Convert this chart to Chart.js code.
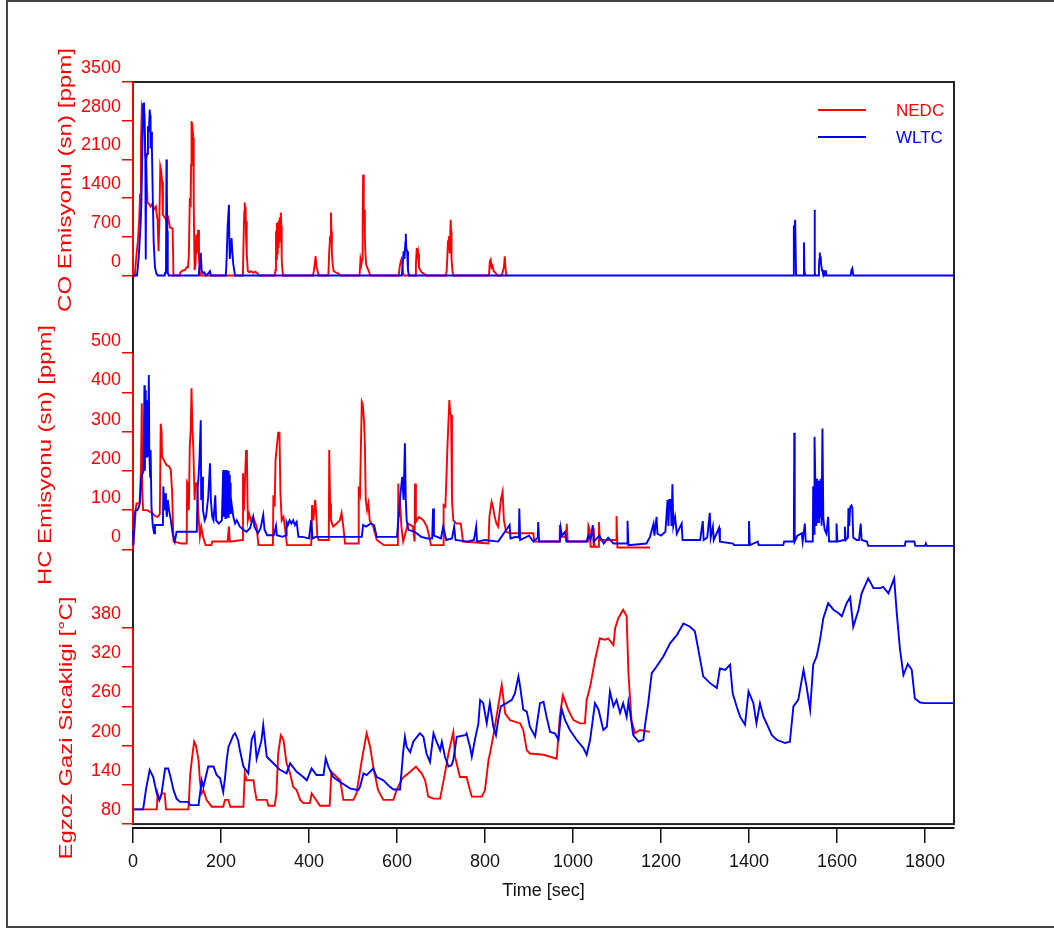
<!DOCTYPE html>
<html>
<head>
<meta charset="utf-8">
<script src="https://cdn.jsdelivr.net/npm/chart.js@4.4.0/dist/chart.umd.min.js"></script>
<style>
  html, body { margin: 0; padding: 0; background: #fff; }
  #wrap { position: relative; width: 1054px; height: 928px; overflow: hidden; }
  #frame { position: absolute; left: 6px; top: 0; width: 1060px; height: 924px;
           border: 2px solid #444; border-right: none; pointer-events: none; }
</style>
</head>
<body>
<div id="wrap">
  <canvas id="myChart" width="1054" height="928"></canvas>
  <div id="frame"></div>
</div>
<script>
// tick values
var timeTicks = [0, 200, 400, 600, 800, 1000, 1200, 1400, 1600, 1800];
var coTicks = [0, 700, 1400, 2100, 2800, 3500];
var hcTicks = [0, 100, 200, 300, 400, 500];
var tempTicks = [80, 140, 200, 260, 320, 380];

// [time s, value]
var coNedc = [[0,0],[4,0],[8,380],[11,620],[14,1000],[16,1460],[18,2400],[20,3035],[22,2950],[24,3000],[26,2900],[28,2186],[30,2000],[33,1320],[36,1300],[40,1250],[44,1300],[48,1200],[52,1250],[54,1100],[56,1000],[58,440],[60,1000],[62,1975],[64,1900],[66,1700],[68,1100],[72,1050],[76,1000],[80,1050],[84,870],[88,860],[90,850],[92,0],
  [106,0],[108,60],[112,90],[118,100],[122,150],[125,150],[127,380],[129,1340],[131,1300],[132,2000],[133,2790],[135,2700],[137,2490],[138,1340],[140,100],[142,200],[144,740],[146,400],[148,830],[150,300],[152,60],[154,0],
  [248,0],[250,100],[252,900],[253,1160],[254,1320],[255,1000],[256,1250],[257,680],[258,980],[259,400],[261,80],[264,60],[268,80],[274,50],[278,70],[283,40],[285,0],
  [322,0],[324,100],[325,800],[326,300],[327,950],[328,400],[329,900],[330,965],[331,500],[332,1000],[333,600],[334,1050],[335,700],[336,1140],[337,900],[338,300],[339,150],[341,0],
  [409,0],[411,80],[413,200],[415,350],[417,150],[419,100],[421,30],[423,0],
  [444,0],[446,440],[448,700],[450,1140],[451,800],[452,400],[454,200],[456,80],[460,60],[466,40],[472,0],
  [515,0],[517,290],[519,200],[521,300],[522,1000],[523,1825],[524,1400],[525,1000],[526,1190],[527,700],[528,440],[530,200],[532,150],[535,100],[538,30],[540,0],
  [604,0],[606,150],[608,235],[610,290],[612,200],[614,50],[616,0],
  [642,0],[643,200],[645,500],[646,300],[648,400],[650,150],[653,100],[656,60],[660,40],[666,0],
  [711,0],[713,100],[716,620],[718,710],[720,400],[722,1010],[723,800],[724,300],[726,100],[728,0],
  [809,0],[811,260],[813,290],[815,150],[817,180],[820,80],[824,50],[828,0],
  [838,0],[840,60],[843,150],[845,350],[847,100],[849,0],[852,0]];

var coWltc = [[0,0],[9,0],[11,150],[13,330],[15,600],[17,870],[19,1300],[21,2190],[23,3100],[25,3130],[27,2500],[28,2150],[29,290],[30,2100],[32,2200],[34,2700],[36,2600],[38,3000],[39,2900],[40,2300],[42,2600],[43,2300],[45,1400],[47,600],[50,150],[53,40],[56,0],
  [72,0],[73,50],[75,60],[76,2100],[77,1500],[78,800],[79,60],[81,0],
  [148,0],[150,80],[152,200],[154,410],[156,100],[158,40],[162,60],[166,0],[172,50],[175,80],[177,0],
  [211,0],[213,350],[215,870],[218,1280],[219,600],[220,300],[222,500],[224,680],[226,400],[228,200],[230,100],[232,0],
  [611,0],[613,200],[615,440],[617,300],[619,600],[620,755],[621,500],[623,440],[625,100],[627,0],
  [1501,0],[1502,890],[1504,890],[1505,1010],[1506,1010],[1507,0],
  [1524,0],[1525,600],[1526,100],[1528,0],
  [1548,0],[1549,1190],[1550,50],[1551,0],
  [1558,0],[1559,150],[1560,300],[1561,415],[1562,250],[1563,350],[1564,200],[1566,100],[1568,50],[1569,0],
  [1571,0],[1572,80],[1575,80],[1576,0],
  [1631,0],[1633,100],[1635,130],[1637,0],[1866,0]];

var hcNedc = [[0,7],[2,7],[4,60],[6,100],[8,117],[15,117],[18,200],[20,372],[21,150],[23,100],[32,100],[40,95],[46,90],[50,85],[56,83],[61,90],[63,320],[65,300],[66,236],[70,228],[76,215],[82,211],[86,202],[89,143],[92,20],[100,18],[110,15],[122,15],
  [123,172],[125,168],[127,100],[129,262],[131,300],[133,410],[135,308],[137,262],[140,126],[142,168],[146,168],[148,100],[152,33],[155,58],[159,33],[165,11],[178,11],[180,20],[215,20],[218,58],[220,20],[248,24],
  [250,194],[252,100],[254,160],[257,253],[259,228],[261,74],[264,90],[268,74],[273,83],[281,58],[285,11],[318,11],
  [319,138],[322,109],[324,228],[330,297],[333,297],[335,143],[338,74],[342,83],[346,50],[350,11],[405,11],
  [407,113],[410,74],[414,126],[416,100],[419,32],[422,24],[445,24],
  [446,253],[448,117],[450,74],[455,58],[463,66],[470,74],[474,93],[478,58],[482,15],[512,15],
  [513,160],[516,143],[520,376],[522,370],[525,329],[527,270],[529,126],[532,100],[535,117],[538,74],[546,58],[554,24],[570,11],[602,11],
  [603,168],[605,83],[607,126],[610,58],[614,20],[625,66],[636,58],[640,20],[641,168],[643,70],[650,83],[660,74],[668,58],[675,24],[677,11],[705,11],
  [706,113],[710,109],[715,270],[719,380],[721,346],[723,342],[725,126],[728,74],[735,66],[745,66],[750,20],[808,15],
  [810,83],[815,121],[818,109],[822,83],[826,66],[830,58],[836,126],[840,147],[843,74],[848,45],[857,41],[910,41],[912,20],[969,20],[970,62],[972,32],[984,32],[986,65],[988,20],
  [1034,20],[1035,60],[1038,50],[1040,7],[1046,7],[1047,55],[1049,7],[1058,7],[1059,70],[1061,24],[1098,24],[1099,85],[1101,5],[1175,5]];

var hcWltc = [[0,50],[1,10],[3,80],[6,100],[10,100],[14,110],[16,126],[19,185],[24,200],[26,418],[27,200],[28,405],[29,253],[30,236],[31,300],[33,380],[34,236],[36,444],[37,253],[39,185],[40,253],[42,109],[45,60],[48,41],[50,62],[68,62],[69,160],[71,100],[73,143],[75,109],[77,83],[79,126],[82,100],[86,74],[90,41],[95,20],[99,45],[145,45],
  [147,160],[149,185],[151,228],[154,329],[155,126],[157,185],[159,100],[163,74],[166,83],[171,134],[175,219],[177,126],[180,83],[183,74],[187,138],[189,74],[195,66],[202,74],
  [205,202],[206,83],[207,195],[208,90],[209,202],[210,80],[211,190],[212,85],[213,202],[214,83],[215,195],[216,90],[217,200],[218,80],[219,190],[220,100],[221,170],[222,90],[224,117],[228,83],[232,66],[236,74],[243,58],[251,50],[258,45],[266,54],[273,83],[276,58],[284,41],[290,54],[296,88],[299,50],[305,36],[320,36],[325,60],[327,36],[340,32],[348,36],
  [349,70],[352,62],[356,74],[360,66],[364,74],[368,62],[372,70],[376,32],[385,32],[400,28],[405,74],[408,28],[415,32],[520,32],
  [523,62],[530,58],[540,66],[548,62],[554,32],[600,32],[605,100],[608,143],[612,185],[615,126],[618,270],[620,126],[622,74],[626,50],[640,45],[655,32],[670,28],[680,28],[682,104],[684,35],[700,28],[705,58],[712,24],[725,28],[730,58],[733,24],[760,20],[775,24],[780,58],[782,20],[800,24],[830,20],[856,62],[858,28],[870,32],[877,30],[878,104],[880,24],[900,35],[910,20],[920,30],[921,70],[923,20],[970,20],[972,55],[975,35],[982,45],[985,20],[1031,20],[1035,35],[1040,24],[1045,62],[1047,20],[1060,35],[1070,15],[1080,30],[1092,15],[1123,15],[1124,73],[1126,11],[1167,15],[1175,32],[1183,65],[1185,35],[1190,83],[1192,40],[1200,35],[1210,45],[1215,126],[1217,60],[1219,126],[1222,126],[1224,60],[1226,166],[1228,60],[1232,83],[1236,40],[1247,66],[1249,24],[1289,24],[1295,72],[1297,24],[1305,30],[1311,93],[1313,30],[1318,58],[1320,24],[1332,55],[1334,20],[1364,15],[1366,11],[1399,11],[1400,72],[1402,11],[1420,20],[1422,11],[1478,11],[1480,20],[1502,20],[1503,297],[1504,20],[1510,35],[1520,41],[1522,20],[1527,66],[1529,20],[1545,20],[1546,161],[1548,40],[1549,287],[1551,160],[1553,60],[1555,180],[1557,70],[1559,175],[1561,80],[1563,180],[1565,60],[1567,308],[1569,80],[1572,50],[1576,40],[1580,83],[1582,20],[1598,20],[1599,66],[1601,20],[1616,24],[1618,58],[1620,24],[1625,30],[1626,105],[1628,60],[1630,108],[1633,112],[1635,105],[1637,30],[1645,24],[1650,24],[1654,66],[1656,24],[1668,20],[1671,9],[1754,9],[1756,20],[1776,20],[1778,9],[1800,9],[1802,15],[1804,9],[1866,9]];

var tempNedc = [[0,102.5],[54,102.5],[56,127],[60,117],[66,127],[72,127],[75,102.5],[126,102.5],[130,155],[134,180],[139,206],[143,200],[149,178],[152,147],[156,127],[160,132],[167,117],[179,106.6],[205,106.6],[209,117],[217,117],[221,106.6],[251,106.6],[254,157.6],[258,147],[274,147],[277,132],[281,117],[304,117],[308,108],[322,108],[326,127],[330,188],[336,216],[342,209],[349,173],[357,157.6],[364,137],[372,132],[380,117],[387,112],[402,112],[406,127],[414,119],[425,108],[447,108],[451,160],[471,147],[478,117],[501,117],[508,127],[520,178],[531,219],[539,198],[546,168],[557,132],[569,117],[592,117],[599,132],[612,150],[630,160],[643,168],[656,157.6],[664,147],[671,122],[683,119],[698,119],[709,157.6],[717,188],[728,221],[732,183],[743,152],[758,152],[770,122],[793,122],[800,132],[808,178],[812,190],[820,219],[830,260],[838,293],[846,249],[857,239],[880,234],[887,224],[895,193],[902,188],[933,186],[963,180],[970,244],[977,277],[989,255],[1001,239],[1016,234],[1027,234],[1031,270],[1039,290],[1050,331],[1061,364],[1073,362],[1080,364],[1092,354],[1096,380],[1103,395],[1114,408],[1122,398],[1126,311],[1133,239],[1141,219],[1152,224],[1175,221]];

var tempWltc = [[0,102.5],[23,102.5],[30,135],[38,162.7],[46,152],[54,127],[60,117],[65,127],[73,165],[80,165],[86,150],[92,132],[99,119],[107,114],[126,114],[130,109],[149,109],[153,130],[156,147],[160,137],[171,168],[183,168],[190,155],[198,150],[205,129],[209,150],[213,178],[217,198],[228,216],[232,219],[239,208],[243,193],[251,168],[262,157.6],[270,210],[276,219],[281,180],[292,208],[296,231.5],[304,183],[319,173],[334,163],[349,157.6],[357,173],[372,160],[387,152],[395,147],[406,165],[417,155],[433,155],[438,180.5],[444,168],[455,152],[470,144.8],[493,134.6],[512,132],[516,137],[524,157.6],[531,155],[546,165],[554,152],[569,147],[584,137],[592,133],[607,133],[614,190],[618,213.7],[622,198],[630,190],[637,206],[652,219],[660,213.7],[667,188],[675,175],[683,218.8],[690,206],[698,193],[702,206],[709,183],[717,168],[724,170],[728,178],[736,213.7],[755,216],[758,218.8],[766,198],[770,183],[777,208.6],[785,234],[789,270],[796,265],[804,234],[811,265],[819,229],[825,216],[830,239],[836,260],[849,265],[861,270],[868,280],[876,306],[880,290],[887,255],[895,252],[902,229],[914,214],[925,265],[933,267],[940,244],[948,221],[959,219],[967,209],[974,257],[982,239],[993,224],[1008,209],[1024,196],[1031,186],[1039,209],[1050,265],[1058,255],[1069,224],[1077,229],[1084,283],[1092,260],[1099,270],[1107,250],[1114,265],[1122,244],[1126,267],[1130,250],[1137,216],[1149,206],[1160,209],[1164,232],[1171,265],[1179,311],[1190,321],[1205,336],[1221,357],[1236,369],[1251,387],[1266,382],[1277,375],[1285,347],[1296,306],[1311,296],[1327,288],[1334,318],[1346,316],[1357,324],[1363,280],[1372,260],[1380,244],[1391,232],[1399,283],[1410,265],[1417,234],[1425,265],[1433,244],[1440,234],[1452,216],[1463,209],[1482,204],[1493,206],[1501,260],[1512,270],[1524,316],[1531,290],[1539,255],[1546,324],[1554,337],[1561,360],[1569,395],[1580,418],[1592,408],[1603,403],[1611,398],[1622,418],[1630,427],[1637,382],[1649,408],[1656,433],[1671,456],[1683,441],[1698,441],[1705,443],[1717,433],[1730,456],[1736,402],[1743,349],[1751,308],[1761,325],[1770,316],[1777,272],[1789,266],[1800,265],[1866,265]];

var RED = '#ff0000';
var BLUE = '#0000ff';
var FONT = '"Liberation Sans", Arial, sans-serif';

function pts(arr) {
  return arr.map(function(p) { return {x: p[0], y: p[1]}; });
}

function series(label, arr, axis, color, order) {
  return {
    label: label, data: pts(arr), yAxisID: axis,
    borderColor: color, backgroundColor: color,
    borderWidth: 1.9, pointRadius: 0, tension: 0,
    order: order, clip: false
  };
}

function plain(v) { return String(v); }

function yAxis(ticks, min, max, weight, sw, offs) {
  return {
    type: 'linear', position: 'left', stack: 'left', stackWeight: sw, weight: weight,
    min: min, max: max,
    afterBuildTicks: function(s) { s.ticks = ticks.map(function(v) { return {value: v}; }); },
    afterFit: function(s) { s.width = 133; },
    border: {display: false},
    grid: {drawOnChartArea: false, drawTicks: true, tickLength: 11, color: RED, lineWidth: 1.5},
    ticks: {color: RED, font: {family: FONT, size: 18}, padding: 1, labelOffset: offs, autoSkip: false, callback: plain}
  };
}

// axis titles and legend
var yTitles = [
  {text: 'CO Emisyonu (sn) [ppm]', x: 66, y: 180, len: 264},
  {text: 'HC Emisyonu (sn) [ppm]', x: 46, y: 455, len: 260},
  {text: 'Egzoz Gazi Sicakligi [°C]', x: 67, y: 728, len: 263}
];

var decor = {
  id: 'decor',
  beforeDatasetsDraw: function(chart) {
    var c = chart.ctx, a = chart.chartArea, s = chart.scales;
    var bottom = s.yT.getPixelForValue(tempTicks[0]);
    c.save();
    c.strokeStyle = '#222';
    c.lineWidth = 2;
    c.strokeRect(a.left, a.top, a.right - a.left, bottom - a.top);
    c.strokeStyle = RED;
    [['yCO', coTicks], ['yHC', hcTicks], ['yT', tempTicks]].forEach(function(p) {
      var sc = s[p[0]], tk = p[1];
      c.beginPath();
      c.moveTo(a.left, sc.getPixelForValue(tk[0]));
      c.lineTo(a.left, sc.getPixelForValue(tk[tk.length - 1]));
      c.stroke();
    });
    c.restore();
  },
  afterDraw: function(chart) {
    var c = chart.ctx;
    yTitles.forEach(function(t) {
      c.save();
      c.translate(t.x, t.y);
      c.rotate(-Math.PI / 2);
      c.font = '19px ' + FONT;
      var w = c.measureText(t.text).width;
      c.scale(t.len / w, 1);
      c.fillStyle = RED;
      c.textAlign = 'center';
      c.textBaseline = 'middle';
      c.fillText(t.text, 0, 0);
      c.restore();
    });
    // legend
    var ds = chart.data.datasets;
    [0, 1].forEach(function(i, k) {
      var y = 110 + k * 27;
      c.save();
      c.strokeStyle = ds[i].borderColor;
      c.lineWidth = 2;
      c.beginPath();
      c.moveTo(818, y);
      c.lineTo(866, y);
      c.stroke();
      c.fillStyle = ds[i].borderColor;
      c.font = '17px ' + FONT;
      c.textAlign = 'left';
      c.textBaseline = 'middle';
      c.fillText(ds[i].label, 896, y + 1);
      c.restore();
    });
  }
};

var ctx = document.getElementById('myChart');
new Chart(ctx, {
  type: 'line',
  data: {
    datasets: [
      series('NEDC', coNedc, 'yCO', RED, 2),
      series('WLTC', coWltc, 'yCO', BLUE, 1),
      series('NEDC', hcNedc, 'yHC', RED, 2),
      series('WLTC', hcWltc, 'yHC', BLUE, 1),
      series('NEDC', tempNedc, 'yT', RED, 2),
      series('WLTC', tempWltc, 'yT', BLUE, 1)
    ]
  },
  options: {
    responsive: false,
    animation: false,
    events: [],
    layout: {padding: {top: 82, right: 100, left: 0, bottom: 0}},
    plugins: {legend: {display: false}, tooltip: {enabled: false}},
    scales: {
      x: {
        type: 'linear', min: 0, max: 1866,
        afterBuildTicks: function(s) { s.ticks = timeTicks.map(function(v) { return {value: v}; }); },
        afterFit: function(s) { s.height = 100; },
        border: {display: true, color: '#111', width: 2},
        grid: {drawOnChartArea: false, drawTicks: true, tickLength: 15, color: '#111', lineWidth: 1.5},
        ticks: {color: '#111', font: {family: FONT, size: 18}, padding: 8, maxRotation: 0, autoSkip: false, callback: plain},
        title: {display: true, text: 'Time [sec]', color: '#111', font: {family: FONT, size: 18}, padding: {top: 0, bottom: 26}}
      },
      yCO: yAxis(coTicks, -1400, 3500, 3, 271, -14),
      yHC: yAxis(hcTicks, -200, 500, 2, 275, -12),
      yT: yAxis(tempTicks, 74, 380, 1, 200, -14)
    }
  },
  plugins: [decor]
});
</script>
</body>
</html>
